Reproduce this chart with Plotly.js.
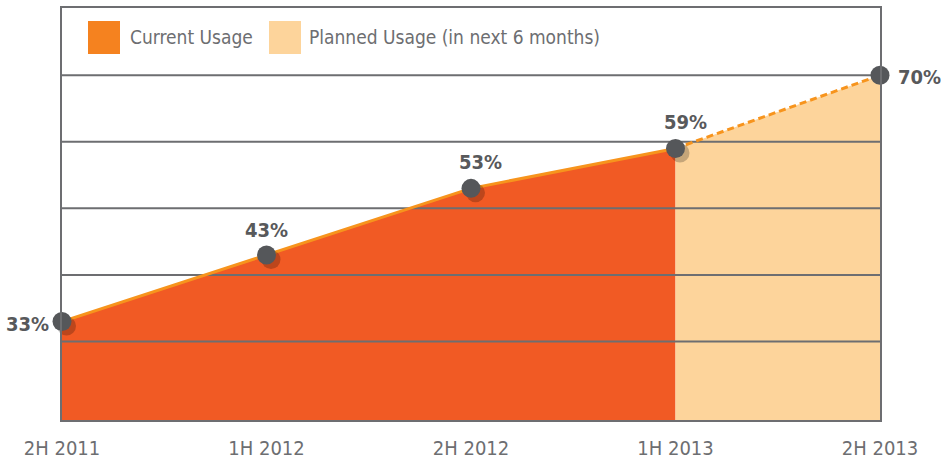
<!DOCTYPE html>
<html>
<head>
<meta charset="utf-8">
<script src="https://cdn.plot.ly/plotly-3.0.1.min.js"></script>
<style>html,body{margin:0;padding:0;background:#fff;}#chart{width:941px;height:463px;}</style>
</head>
<body>
<div id="chart"></div>
<script>
// ---- data ----
var categories = ['2H 2011', '1H 2012', '2H 2012', '1H 2013', '2H 2013'];
var currentUsage = [33, 43, 53, 59];           // 2H 2011 .. 1H 2013
var plannedUsage = [59, 70];                   // 1H 2013 .. 2H 2013
var allValues = [33, 43, 53, 59, 70];
var valueLabels = ['33%', '43%', '53%', '59%', '70%'];
var gridValues = [30, 40, 50, 60, 70];
var legendNames = ['Current Usage', 'Planned Usage (in next 6 months)'];

// ---- style ----
var FONT = '"DejaVu Sans Condensed", "Liberation Sans Narrow", sans-serif';
var GREY = '#6d6e71';
var W = 941, H = 463;
var M = {l: 62, r: 61, t: 8, b: 43};
var PW = W - M.l - M.r, PH = H - M.t - M.b;
var yRange = [18.2, 80.1];
var xRange = [0, categories.length - 1];
var shadowPx = 4.5;
var dx = shadowPx * (xRange[1] - xRange[0]) / PW;
var dy = shadowPx * (yRange[1] - yRange[0]) / PH;

var traces = [];
// area fills
traces.push({x: categories.slice(0, currentUsage.length), y: currentUsage, type: 'scatter', mode: 'none',
  fill: 'tozeroy', fillcolor: '#f15a24', hoverinfo: 'skip', showlegend: false});
traces.push({x: categories.slice(categories.length - plannedUsage.length), y: plannedUsage, type: 'scatter', mode: 'none',
  fill: 'tozeroy', fillcolor: '#fdd49b', hoverinfo: 'skip', showlegend: false});
// gridlines
gridValues.forEach(function (g) {
  traces.push({x: [categories[0], categories[categories.length - 1]], y: [g, g], type: 'scatter', mode: 'lines',
    line: {color: GREY, width: 2}, hoverinfo: 'skip', showlegend: false});
});
// lines
traces.push({x: categories.slice(0, currentUsage.length), y: currentUsage, type: 'scatter', mode: 'lines',
  line: {color: '#f7941d', width: 3}, hoverinfo: 'skip', showlegend: false});
traces.push({x: categories.slice(categories.length - plannedUsage.length), y: plannedUsage, type: 'scatter', mode: 'lines',
  line: {color: '#f7941d', width: 3, dash: '7px,4px'}, hoverinfo: 'skip', showlegend: false});
// marker shadows
traces.push({x: categories, y: allValues, xaxis: 'x2', yaxis: 'y2', type: 'scatter', mode: 'markers',
  cliponaxis: false, marker: {size: 19, color: 'rgba(0,0,0,0.22)'}, hoverinfo: 'skip', showlegend: false});
// markers
traces.push({x: categories, y: allValues, xaxis: 'x3', yaxis: 'y3', type: 'scatter', mode: 'markers',
  cliponaxis: false, marker: {size: 19, color: '#55575a'}, hoverinfo: 'skip', showlegend: false});

var labelDx = [-35, 0, 9, 10, 39];
var labelDy = [-3, 25, 26, 26, -2];
var annotations = allValues.map(function (v, i) {
  return {x: categories[i], y: v, xref: 'x', yref: 'y', text: valueLabels[i], showarrow: false,
    xshift: labelDx[i], yshift: labelDy[i],
    font: {family: FONT, size: 20, color: '#58595b', weight: 'bold'}};
});

function px2x(p) { return (p - M.l) / PW; }
function px2y(p) { return (M.t + PH - p) / PH; }
var legendColors = ['#f5821f', '#fdd49b'];
var legendSquareX = [88, 269];
var legendTextX = [128, 307];
var shapes = [];
legendNames.forEach(function (n, i) {
  shapes.push({type: 'rect', xref: 'paper', yref: 'paper',
    x0: px2x(legendSquareX[i]), x1: px2x(legendSquareX[i] + 32),
    y0: px2y(54), y1: px2y(21), fillcolor: legendColors[i], line: {width: 0}});
  annotations.push({xref: 'paper', yref: 'paper', x: px2x(legendTextX[i]), y: px2y(37),
    xanchor: 'left', yanchor: 'middle', text: n, showarrow: false,
    font: {family: FONT, size: 19, color: GREY}});
});

var axisCommon = {showgrid: false, zeroline: false, fixedrange: true};
var layout = {
  width: W, height: H, margin: M, paper_bgcolor: '#ffffff', plot_bgcolor: '#ffffff',
  showlegend: false, hovermode: false,
  xaxis: Object.assign({}, axisCommon, {type: 'category', categoryarray: categories, range: xRange,
    showline: true, mirror: true, linecolor: GREY, linewidth: 2, ticks: '', ticklabelstandoff: 9,
    tickfont: {family: FONT, size: 20, color: GREY}}),
  yaxis: Object.assign({}, axisCommon, {range: yRange, showline: true, mirror: true, linecolor: GREY,
    linewidth: 2, showticklabels: false, ticks: ''}),
  xaxis2: Object.assign({}, axisCommon, {overlaying: 'x', type: 'category', categoryarray: categories,
    range: [xRange[0] - dx, xRange[1] - dx], visible: false}),
  yaxis2: Object.assign({}, axisCommon, {overlaying: 'y', range: [yRange[0] + dy, yRange[1] + dy], visible: false}),
  xaxis3: Object.assign({}, axisCommon, {overlaying: 'x', type: 'category', categoryarray: categories,
    range: xRange, visible: false}),
  yaxis3: Object.assign({}, axisCommon, {overlaying: 'y', range: yRange, visible: false}),
  shapes: shapes,
  annotations: annotations
};

Plotly.newPlot('chart', traces, layout, {displayModeBar: false, staticPlot: true});
</script>
</body>
</html>
